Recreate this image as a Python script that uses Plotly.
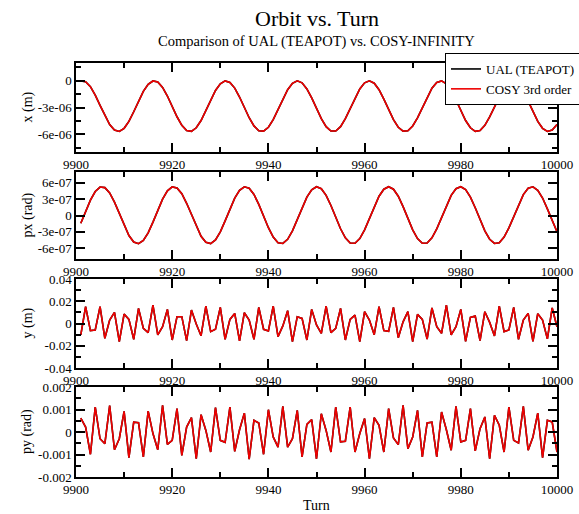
import plotly.graph_objects as go

# Turn numbers (one sample per turn)
turns = list(range(9901, 10001))

# Horizontal orbit x (units of 1e-6 m)
x_um = [
    -0.03, -0.11, -0.66, -1.60, -2.76, -3.93, -4.92, -5.54, -5.69, -5.34,
    -4.56, -3.48, -2.28, -1.19, -0.39, -0.02, -0.14, -0.74, -1.71, -2.88,
    -4.04, -5.00, -5.58, -5.68, -5.28, -4.46, -3.36, -2.17, -1.09, -0.33,
    -0.01, -0.18, -0.82, -1.82, -3.00, -4.15, -5.07, -5.61, -5.66, -5.22,
    -4.36, -3.24, -2.05, -1.00, -0.28, 0.00, -0.23, -0.91, -1.93, -3.12,
    -4.26, -5.15, -5.64, -5.64, -5.15, -4.26, -3.12, -1.94, -0.92, -0.23,
    0.00, -0.27, -1.00, -2.05, -3.24, -4.36, -5.22, -5.66, -5.61, -5.08,
    -4.16, -3.00, -1.83, -0.83, -0.18, -0.01, -0.33, -1.09, -2.16, -3.35,
    -4.46, -5.28, -5.68, -5.58, -5.00, -4.05, -2.89, -1.72, -0.75, -0.14,
    -0.02, -0.38, -1.19, -2.28, -3.47, -4.56, -5.34, -5.69, -5.54, -4.92,
]

# Horizontal angle px (units of 1e-7 rad)
px_e7 = [
    -1.42, 0.77, 2.83, 4.41, 5.23, 5.13, 4.15, 2.45, 0.33, -1.84,
    -3.68, -4.87, -5.19, -4.60, -3.19, -1.21, 0.98, 3.02, 4.53, 5.26,
    5.07, 4.01, 2.25, 0.11, -2.05, -3.83, -4.94, -5.17, -4.49, -3.01,
    -0.99, 1.20, 3.19, 4.64, 5.28, 5.00, 3.86, 2.05, -0.11, -2.25,
    -3.98, -5.01, -5.14, -4.38, -2.83, -0.78, 1.42, 3.37, 4.74, 5.29,
    4.93, 3.71, 1.84, -0.33, -2.44, -4.11, -5.06, -5.11, -4.25, -2.64,
    -0.56, 1.63, 3.54, 4.84, 5.30, 4.84, 3.55, 1.64, -0.55, -2.63,
    -4.24, -5.11, -5.06, -4.12, -2.45, -0.34, 1.83, 3.70, 4.92, 5.29,
    4.75, 3.38, 1.43, -0.77, -2.82, -4.37, -5.14, -5.01, -3.98, -2.26,
    -0.12, 2.04, 3.85, 5.00, 5.28, 4.64, 3.21, 1.21, -0.98, -3.00,
]

# Vertical orbit y (m)
y_m = [
    -0.0103, 0.0151, -0.0064, -0.0058, 0.0151, -0.0133, 0.0031, 0.0100, -0.0163, 0.0085,
    0.0037, -0.0142, 0.0136, -0.0043, -0.0082, 0.0166, -0.0103, -0.0028, 0.0127, -0.0148,
    0.0061, 0.0061, -0.0154, 0.0121, -0.0004, -0.0110, 0.0157, -0.0073, -0.0052, 0.0145,
    -0.0142, 0.0037, 0.0091, -0.0157, 0.0097, 0.0031, -0.0142, 0.0145, -0.0052, -0.0067,
    0.0157, -0.0118, -0.0022, 0.0115, -0.0163, 0.0061, 0.0046, -0.0148, 0.0127, -0.0013,
    -0.0088, 0.0157, -0.0082, -0.0043, 0.0136, -0.0148, 0.0037, 0.0076, -0.0163, 0.0106,
    0.0031, -0.0100, 0.0151, -0.0064, -0.0070, 0.0145, -0.0128, 0.0015, 0.0106, -0.0163,
    0.0082, 0.0037, -0.0140, 0.0140, -0.0028, -0.0088, 0.0166, -0.0103, -0.0028, 0.0127,
    -0.0160, 0.0055, 0.0067, -0.0154, 0.0106, 0.0010, -0.0112, 0.0157, -0.0073, -0.0058,
    0.0145, -0.0142, 0.0031, 0.0091, -0.0160, 0.0088, 0.0031, -0.0138, 0.0140, -0.0030,
]

# Vertical angle py (units of 1e-3 rad)
py_e3 = [
    0.62, 0.22, -0.99, 1.11, -0.30, -0.52, 1.17, -0.79, -0.30, 0.92,
    -1.14, 0.44, 0.41, -1.11, 0.93, -0.07, -0.79, 1.19, -0.55, -0.37,
    1.04, -1.04, 0.22, 0.64, -1.19, 0.77, 0.07, -0.89, 1.08, -0.37,
    -0.46, 1.11, -0.86, 0.10, 0.84, -1.21, 0.52, 0.40, -0.99, 0.99,
    -0.22, -0.67, 1.14, -0.67, -0.30, 0.96, -1.11, 0.34, 0.55, -1.19,
    0.81, 0.07, -0.89, 1.11, -0.44, -0.41, 1.11, -0.89, -0.07, 0.60,
    -1.19, 0.64, 0.30, -0.89, 1.04, -0.26, -0.56, 1.19, -0.74, -0.22,
    0.96, -1.11, 0.40, 0.44, -1.11, 0.89, 0.10, -0.81, 1.14, -0.44,
    -0.37, 1.04, -0.84, 0.15, 0.67, -1.19, 0.74, 0.30, -0.89, 1.11,
    -0.37, -0.49, 1.14, -0.81, -0.22, 0.84, -1.14, 0.52, 0.45, -0.89,
]

x_vals = [v * 1e-6 for v in x_um]
px_vals = [v * 1e-7 for v in px_e7]
y_vals = y_m
py_vals = [v * 1e-3 for v in py_e3]

# Axis tick definitions
turn_ticks = [9900, 9920, 9940, 9960, 9980, 10000]
turn_labels = ["9900", "9920", "9940", "9960", "9980", "10000"]

x_ticks = [0, -3e-6, -6e-6]
x_labels = ["0", "-3e-06", "-6e-06"]
px_ticks = [6e-7, 3e-7, 0, -3e-7, -6e-7]
px_labels = ["6e-07", "3e-07", "0", "-3e-07", "-6e-07"]
y_ticks = [0.04, 0.02, 0, -0.02, -0.04]
y_labels = ["0.04", "0.02", "0", "-0.02", "-0.04"]
py_ticks = [0.002, 0.001, 0, -0.001, -0.002]
py_labels = ["0.002", "0.001", "0", "-0.001", "-0.002"]

series_names = ["UAL (TEAPOT)", "COSY 3rd order"]
panel_titles = ["x (m)", "px (rad)", "y (m)", "py (rad)"]

W, H = 579, 514
FONT = "Liberation Serif"

panels = [
    dict(vals=x_vals, rng=[-8e-6, 2e-6], tv=x_ticks, tt=x_labels, minor=1.5e-6, top=63, bot=152),
    dict(vals=px_vals, rng=[-8e-7, 8e-7], tv=px_ticks, tt=px_labels, minor=None, top=172, bot=259),
    dict(vals=y_vals, rng=[-0.04, 0.04], tv=y_ticks, tt=y_labels, minor=0.01, top=279, bot=368),
    dict(vals=py_vals, rng=[-0.002, 0.002], tv=py_ticks, tt=py_labels, minor=0.0005, top=387, bot=477),
]

x_dom = [76 / W, 557 / W]

fig = go.Figure()
layout = dict(
    width=W, height=H,
    margin=dict(l=0, r=0, t=0, b=0, autoexpand=False),
    paper_bgcolor="white", plot_bgcolor="white",
    font=dict(family=FONT, size=13, color="black"),
    showlegend=True,
)

axis_common = dict(
    showline=True, linecolor="black", linewidth=1.5, mirror="ticks",
    ticks="inside", ticklen=9, tickwidth=1.5, tickcolor="black",
    showgrid=False, zeroline=False,
    tickfont=dict(family=FONT, size=13, color="black"),
)

for i, p in enumerate(panels, start=1):
    xa = "x" if i == 1 else f"x{i}"
    ya = "y" if i == 1 else f"y{i}"
    for name, color in zip(series_names, ["black", "#ee0000"]):
        fig.add_trace(go.Scatter(
            x=turns, y=p["vals"], mode="lines", name=name,
            line=dict(color=color, width=1.6),
            xaxis=xa, yaxis=ya, showlegend=(i == 1),
        ))
    ydom = [1 - p["bot"] / H, 1 - p["top"] / H]
    xkey = "xaxis" if i == 1 else f"xaxis{i}"
    ykey = "yaxis" if i == 1 else f"yaxis{i}"
    layout[xkey] = dict(
        axis_common, domain=x_dom, range=[9900, 10000], anchor=ya,
        tickmode="array", tickvals=turn_ticks, ticktext=turn_labels,
        minor=dict(ticks="inside", ticklen=5, tickwidth=1.5, tickcolor="black",
                   tickmode="array", tickvals=[9910, 9930, 9950, 9970, 9990]),
    )
    ydict = dict(
        axis_common, domain=ydom, range=p["rng"], anchor=xa,
        tickmode="array", tickvals=p["tv"], ticktext=p["tt"],
    )
    if p["minor"]:
        ydict["minor"] = dict(ticks="inside", ticklen=5, tickwidth=1.5,
                              tickcolor="black", dtick=p["minor"], tick0=0)
    layout[ykey] = ydict

annotations = [
    dict(text="Orbit vs. Turn", x=316.5 / W, y=1 - 4 / H, xref="paper", yref="paper",
         xanchor="center", yanchor="top", showarrow=False,
         font=dict(family=FONT, size=22, color="black")),
    dict(text="Comparison of UAL (TEAPOT) vs. COSY-INFINITY", x=316.5 / W, y=1 - 31 / H,
         xref="paper", yref="paper", xanchor="center", yanchor="top", showarrow=False,
         font=dict(family=FONT, size=14.5, color="black")),
    dict(text="Turn", x=316.5 / W, y=1 - 505 / H, xref="paper", yref="paper",
         xanchor="center", yanchor="middle", showarrow=False,
         font=dict(family=FONT, size=14, color="black")),
]
for p, t in zip(panels, panel_titles):
    annotations.append(dict(
        text=t, x=27 / W, y=1 - (p["top"] + p["bot"]) / 2 / H, xref="paper", yref="paper",
        xanchor="center", yanchor="middle", textangle=-90, showarrow=False,
        font=dict(family=FONT, size=14, color="black"),
    ))
layout["annotations"] = annotations

layout["legend"] = dict(
    x=445 / W, y=1 - 53 / H, xanchor="left", yanchor="top",
    bgcolor="white", bordercolor="black", borderwidth=1,
    font=dict(family=FONT, size=13, color="black"),
    tracegroupgap=0, itemwidth=30,
)

fig.update_layout(**layout)
fig.write_html("out.html")
